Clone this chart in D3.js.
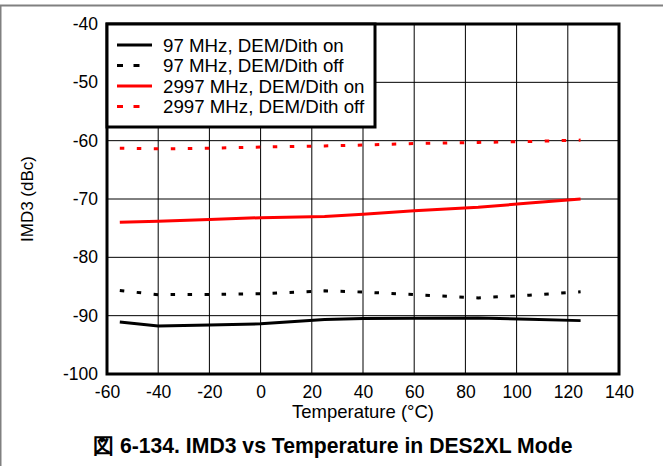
<!DOCTYPE html>
<html><head><meta charset="utf-8">
<script src="https://cdn.jsdelivr.net/npm/d3@7"></script>
<style>body{margin:0;background:#fff;} svg{display:block;font-family:"Liberation Sans",Arial,sans-serif;}</style>
</head><body>
<svg id="c" width="663" height="466"></svg>
<script>
const temps = [-55, -40, -20, 0, 25, 40, 60, 85, 105, 125];
const imd97On = [-91.1, -91.75, -91.6, -91.4, -90.65, -90.5, -90.45, -90.4, -90.6, -90.85];
const imd97Off = [-85.7, -86.4, -86.35, -86.25, -85.75, -85.95, -86.4, -86.95, -86.5, -85.9];
const imd2997On = [-74.0, -73.8, -73.5, -73.2, -73.0, -72.6, -72.0, -71.4, -70.7, -70.0];
const imd2997Off = [-61.3, -61.4, -61.3, -61.1, -60.9, -60.75, -60.5, -60.3, -60.15, -59.9];
const seriesNames = ["97 MHz, DEM/Dith on", "97 MHz, DEM/Dith off", "2997 MHz, DEM/Dith on", "2997 MHz, DEM/Dith off"];
const xTicks = [-60, -40, -20, 0, 20, 40, 60, 80, 100, 120, 140];
const yTicks = [-100, -90, -80, -70, -60, -50, -40];
const xTitle = "Temperature (°C)";
const yTitle = "IMD3 (dBc)";
const caption = "図 6-134. IMD3 vs Temperature in DES2XL Mode";

const series = [
  {name: seriesNames[0], values: imd97On, color: "#000", dashed: false},
  {name: seriesNames[1], values: imd97Off, color: "#000", dashed: true},
  {name: seriesNames[2], values: imd2997On, color: "#ff0000", dashed: false},
  {name: seriesNames[3], values: imd2997Off, color: "#ff0000", dashed: true}
];

const svg = d3.select("#c");
const L = 107, R = 619, T = 24, B = 374;
const x = d3.scaleLinear().domain([-60, 140]).range([L, R]);
const y = d3.scaleLinear().domain([-100, -40]).range([B, T]);
const fmt = d => String(d);

// outer frame
svg.append("line").attr("x1", 0).attr("x2", 663).attr("y1", 5.5).attr("y2", 5.5).attr("stroke", "#808080").attr("stroke-width", 2);
svg.append("line").attr("x1", 0.75).attr("x2", 0.75).attr("y1", 5).attr("y2", 466).attr("stroke", "#808080").attr("stroke-width", 1.5);

// grid
const g = svg.append("g");
g.selectAll(".gx").data(xTicks).join("line")
  .attr("x1", d => x(d)).attr("x2", d => x(d)).attr("y1", T).attr("y2", B)
  .attr("stroke", "#000").attr("stroke-width", 1);
g.selectAll(".gy").data(yTicks).join("line")
  .attr("x1", L).attr("x2", R).attr("y1", d => y(d)).attr("y2", d => y(d))
  .attr("stroke", "#000").attr("stroke-width", 1);

// axes labels via d3 axes
const xAxis = svg.append("g").attr("transform", `translate(0,${B})`)
  .call(d3.axisBottom(x).tickValues(xTicks).tickSize(0).tickPadding(12).tickFormat(fmt));
xAxis.select(".domain").remove();
xAxis.selectAll("text").attr("font-size", 17.5).attr("fill", "#000").attr("font-family", "Liberation Sans, Arial, sans-serif");
const yAxis = svg.append("g").attr("transform", `translate(${L},0)`)
  .call(d3.axisLeft(y).tickValues(yTicks).tickSize(0).tickPadding(9).tickFormat(fmt));
yAxis.select(".domain").remove();
yAxis.selectAll("text").attr("font-size", 17.5).attr("fill", "#000").attr("font-family", "Liberation Sans, Arial, sans-serif");

// lines
const line = d3.line().x((d, i) => x(temps[i])).y(d => y(d));
series.forEach(s => {
  svg.append("path").attr("d", line(s.values)).attr("fill", "none")
    .attr("stroke", s.color).attr("stroke-width", 3)
    .attr("stroke-dasharray", s.dashed ? "4.5,12.5" : null);
});

// plot frame
svg.append("rect").attr("x", L).attr("y", T).attr("width", R - L).attr("height", B - T)
  .attr("fill", "none").attr("stroke", "#000").attr("stroke-width", 3);

// legend
const lg = svg.append("g");
lg.append("rect").attr("x", L).attr("y", T).attr("width", 268).attr("height", 103)
  .attr("fill", "#fff").attr("stroke", "#000").attr("stroke-width", 3);
const rowY = [45, 65.5, 86, 106.5];
series.forEach((s, i) => {
  lg.append("line").attr("x1", 117).attr("x2", s.dashed ? 140 : 152).attr("y1", rowY[i]).attr("y2", rowY[i])
    .attr("stroke", s.color).attr("stroke-width", 3)
    .attr("stroke-dasharray", s.dashed ? "6,10.5" : null);
  lg.append("text").attr("x", 163).attr("y", rowY[i]).attr("dy", "0.35em")
    .attr("font-size", 18.7).text(s.name);
});

// titles
svg.append("text").attr("x", (L + R) / 2).attr("y", 418).attr("text-anchor", "middle")
  .attr("font-size", 18.5).text(xTitle);
svg.append("text").attr("transform", `translate(33,${(T + B) / 2}) rotate(-90)`).attr("text-anchor", "middle")
  .attr("font-size", 17).text(yTitle);
svg.append("text").attr("x", 93).attr("y", 453).attr("font-weight", "bold")
  .attr("font-size", 21.2).text(caption);
</script>
</body></html>
